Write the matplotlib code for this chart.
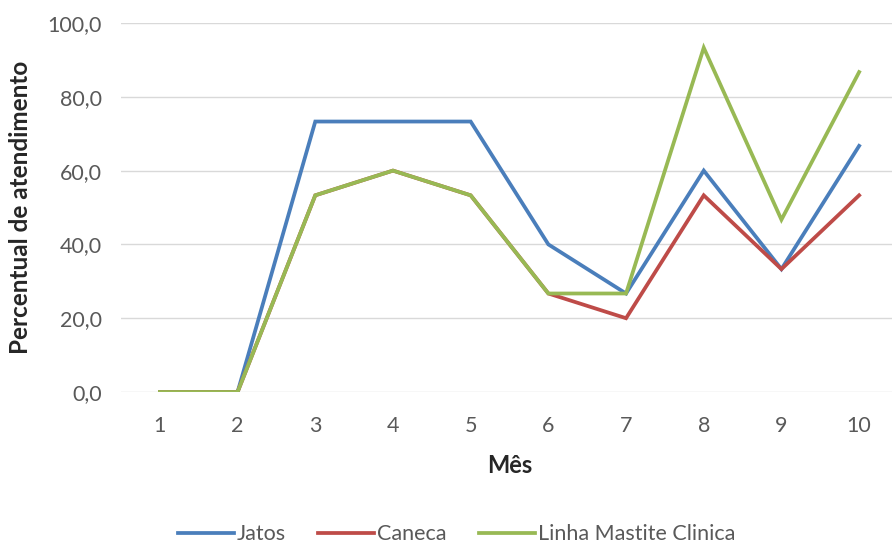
import matplotlib
matplotlib.use("Agg")
import matplotlib.pyplot as plt
from matplotlib.ticker import FuncFormatter

plt.rcParams['font.family'] = ['Lato', 'DejaVu Sans']

meses = [1, 2, 3, 4, 5, 6, 7, 8, 9, 10]
jatos = [0.0, 0.0, 73.3, 73.3, 73.3, 40.0, 26.7, 60.0, 33.3, 66.7]
caneca = [0.0, 0.0, 53.3, 60.0, 53.3, 26.7, 20.0, 53.3, 33.3, 53.3]
linha = [0.0, 0.0, 53.3, 60.0, 53.3, 26.7, 26.7, 93.3, 46.7, 86.7]

series = [
    ("Jatos", jatos, "#4A7EBB"),
    ("Caneca", caneca, "#BE4B48"),
    ("Linha Mastite Clinica", linha, "#98B954"),
]

fig = plt.figure(figsize=(8.92, 5.45), dpi=100)
ax = fig.add_axes([0.1357, 0.2807, 0.871, 0.6771])

for nome, vals, cor in series:
    ax.plot(meses, vals, color=cor, lw=2.7, label=nome, solid_joinstyle='miter')

ax.set_xlim(0.5, 10.5)
ax.set_ylim(0, 100)
ax.set_yticks([0, 20, 40, 60, 80, 100])
ax.set_xticks(meses)
ax.yaxis.set_major_formatter(FuncFormatter(lambda v, p: f"{v:.1f}".replace(".", ",")))
ax.grid(axis='y', color='#D9D9D9', lw=1)
ax.set_axisbelow(True)
for s in ax.spines.values():
    s.set_visible(False)
ax.tick_params(axis='y', length=0, labelsize=15.5, colors='#595959', pad=14)
ax.tick_params(axis='x', length=0, labelsize=15.5, colors='#595959', pad=17)

ax.set_ylabel("Percentual de atendimento", fontsize=17.5, fontweight='bold', color='#262626')
ax.yaxis.label.set_va('center')
ax.yaxis.set_label_coords(-0.13, 0.5)
ax.set_xlabel("Mês", fontsize=17, fontweight='bold', color='#262626')
ax.xaxis.label.set_va('center')
ax.xaxis.set_label_coords(0.5, -0.198)

fig.legend(loc='center', bbox_to_anchor=(0.512, 0.02), ncol=3, frameon=False,
           fontsize=15.5, handlelength=2.6, handletextpad=0.15, columnspacing=1.5,
           labelcolor='#595959', borderaxespad=0, borderpad=0)

fig.savefig("out.png", dpi=100, facecolor='white')
